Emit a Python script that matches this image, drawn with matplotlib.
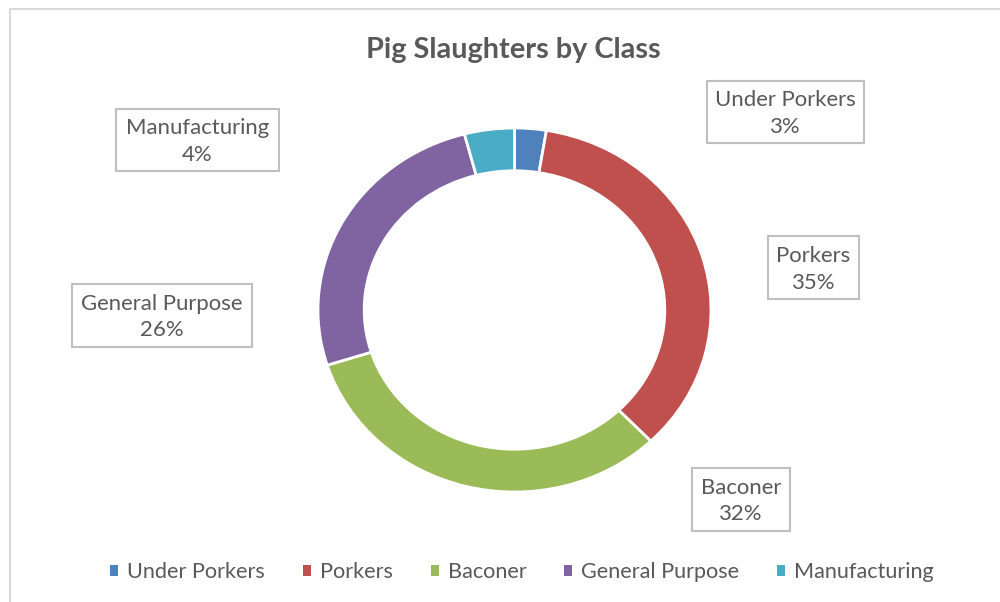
import matplotlib
matplotlib.use("Agg")
import matplotlib.pyplot as plt
from matplotlib.patches import Rectangle
import matplotlib.lines as mlines

# ---- data ----
categories = ["Under Porkers", "Porkers", "Baconer", "General Purpose", "Manufacturing"]
shares = [2.6, 35.2, 32.3, 25.8, 4.1]
pct_labels = ["3%", "35%", "32%", "26%", "4%"]
colors = ["#4F81BD", "#C0504D", "#9BBB59", "#8064A2", "#4BACC6"]
title = "Pig Slaughters by Class"

# ---- layout (pixels) ----
W, H = 1000, 602
FONT = "Lato"
TXT = "#595959"
BORDER = "#d9d9d9"
BOXEDGE = "#bfbfbf"
label_boxes = [  # centre x, centre y, width, height
    (785.5, 112.0, 157, 62),
    (813.5, 267.5, 91, 63),
    (741.0, 499.5, 98, 63),
    (162.0, 315.5, 180, 63),
    (197.5, 140.0, 163, 62),
]

fig = plt.figure(figsize=(W / 100, H / 100), dpi=100)
fig.patch.set_facecolor("white")
renderer = fig.canvas.get_renderer()


def fx(x):
    return x / W


def fy(y):
    return 1 - y / H


def fit_size(s, target, weight="normal", base=14.0):
    t = fig.text(0, 0, s, fontsize=base, family=FONT, weight=weight)
    w = t.get_window_extent(renderer).width
    t.remove()
    return base * target / w


# chart frame
fig.add_artist(mlines.Line2D([fx(10), fx(10)], [fy(9), 0], color=BORDER, lw=1.5))
fig.add_artist(mlines.Line2D([fx(10), 1], [fy(9), fy(9)], color=BORDER, lw=1.5))

# title
ts = fit_size(title, 297, weight="bold")
fig.text(fx(513.5), fy(58), title, ha="center", va="baseline", fontsize=ts,
         family=FONT, weight="bold", color=TXT)

# donut
cx, cy, rx, ry = 514.5, 310.0, 196.5, 182.0
ax = fig.add_axes([fx(cx - rx), fy(cy + ry), 2 * rx / W, 2 * ry / H])
wedges, _ = ax.pie(shares, colors=colors, startangle=90, counterclock=False,
                   radius=1.0,
                   wedgeprops=dict(width=0.235, edgecolor="white", linewidth=2))
ax.set_aspect("auto")
ax.set_xlim(-1, 1)
ax.set_ylim(-1, 1)
ax.axis("off")

# data labels
ls = fit_size("Under Porkers", 142)
for name, pct, (bx, by, bw, bh) in zip(categories, pct_labels, label_boxes):
    fig.add_artist(Rectangle((fx(bx - bw / 2), fy(by + bh / 2)), bw / W, bh / H,
                             transform=fig.transFigure, facecolor="white",
                             edgecolor=BOXEDGE, lw=1.5))
    fig.text(fx(bx), fy(by - 6), name, ha="center", va="baseline",
             fontsize=ls, family=FONT, color=TXT)
    fig.text(fx(bx), fy(by + 21), pct, ha="center", va="baseline",
             fontsize=ls, family=FONT, color=TXT)

# legend
lgs = fit_size("Under Porkers", 138)
fpx = lgs * 100 / 72
handles = [Rectangle((0, 0), 1, 1, facecolor=c, edgecolor="none") for c in colors]
leg = fig.legend(handles, categories, loc="center", bbox_to_anchor=(fx(522), fy(572)),
                 ncol=5, frameon=False, prop=dict(family=FONT, size=lgs),
                 handlelength=8 / fpx, handleheight=8 / fpx,
                 handletextpad=9 / fpx, columnspacing=38 / fpx, borderpad=0)
for t in leg.get_texts():
    t.set_color(TXT)

fig.savefig("out.png", dpi=100, facecolor="white")
